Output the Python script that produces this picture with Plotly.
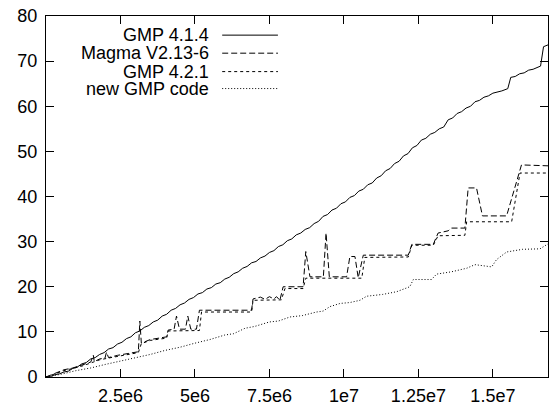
import plotly.graph_objects as go

# x values in millions
gmp414_x = [0, 0.15, 0.3, 0.45, 0.6, 0.75, 0.9, 1.05, 1.2, 1.35,
            1.5, 1.65, 1.8, 1.95, 2.1, 2.25, 2.4, 2.55, 2.7, 2.85,
            3.0, 3.15, 3.3, 3.45, 3.6, 3.75, 3.9, 4.05, 4.2, 4.35,
            4.5, 4.65, 4.8, 4.95, 5.1, 5.25, 5.4, 5.55, 5.7, 5.85,
            6.0, 6.15, 6.3, 6.45, 6.6, 6.75, 6.9, 7.05, 7.2, 7.35,
            7.5, 7.65, 7.8, 7.95, 8.1, 8.25, 8.4, 8.55, 8.7, 8.85,
            9.0, 9.15, 9.3, 9.45, 9.6, 9.75, 9.9, 10.05, 10.2, 10.35,
            10.5, 10.65, 10.8, 10.95, 11.1, 11.25, 11.4, 11.55, 11.7, 11.85,
            12.0, 12.15, 12.3, 12.45, 12.6, 12.75, 12.9, 13.05, 13.2, 13.35,
            13.5, 13.65, 13.8, 13.95, 14.1, 14.25, 14.4, 14.55, 14.7, 14.85,
            15.0, 15.15, 15.3, 15.5, 15.6, 15.75, 15.9, 16.05, 16.2, 16.35,
            16.5, 16.6, 16.7, 16.85]
gmp414_y = [0, 0.1, 0.5, 0.7, 1.1, 1.3, 1.9, 2.2, 2.9, 3.2,
            4.0, 4.3, 5.0, 5.4, 6.2, 6.5, 7.3, 7.7, 8.5, 8.9,
            9.8, 10.2, 11.0, 11.4, 12.2, 12.6, 13.5, 13.9, 14.8, 15.2,
            16.0, 16.4, 17.2, 17.6, 18.4, 18.7, 19.5, 19.8, 20.6, 20.9,
            21.7, 22.1, 22.9, 23.3, 24.1, 24.5, 25.3, 25.6, 26.4, 26.8,
            27.6, 28.0, 28.9, 29.3, 30.2, 30.6, 31.5, 31.9, 32.7, 33.1,
            34.0, 34.5, 35.6, 36.0, 37.0, 37.4, 38.4, 38.8, 39.8, 40.2,
            41.2, 41.6, 42.6, 43.0, 44.1, 44.6, 45.7, 46.2, 47.3, 47.8,
            49.0, 49.5, 50.8, 51.3, 52.5, 52.9, 53.8, 54.2, 55.0, 55.4,
            57.0, 57.4, 58.4, 58.8, 59.6, 60.0, 61.0, 61.3, 62.0, 62.3,
            62.9, 63.1, 63.4, 63.9, 66.4, 66.6, 67.2, 67.4, 68.0, 68.2,
            68.6, 68.9, 73.2, 73.6]

magma_x = [0, 0.3, 0.6, 0.9, 1.2, 1.5, 1.59, 1.62, 1.8, 1.98, 2.03, 2.1,
           2.4, 2.8, 3.1, 3.15, 3.2, 3.5, 3.8, 4.05, 4.1, 4.3, 4.38, 4.48,
           4.68, 4.76, 4.86, 5.05, 5.15, 6.9, 6.95, 7.2, 7.35, 7.5, 7.65, 7.74,
           7.85, 7.96, 8.63, 8.72, 8.86, 9.31, 9.40, 9.51, 10.09, 10.20, 10.37, 10.48,
           10.65, 12.16, 12.28, 13.0, 13.16, 13.5, 13.6, 14.06, 14.17, 14.45, 14.65, 15.46,
           15.96, 16.85]
magma_y = [0, 0.8, 1.6, 2.0, 2.6, 3.3, 4.8, 3.4, 4.0, 4.2, 5.5, 4.3,
           4.8, 5.2, 5.6, 12.4, 7.5, 8.3, 8.6, 8.9, 10.4, 10.6, 13.5, 10.6,
           10.6, 13.5, 10.6, 10.6, 14.8, 14.8, 17.3, 17.7, 17.2, 17.8, 17.3, 17.8,
           17.0, 20.0, 20.0, 27.8, 22.2, 22.2, 31.9, 22.2, 22.2, 26.7, 26.7, 22.0,
           27.0, 27.0, 29.4, 29.4, 31.9, 32.4, 33.0, 33.0, 41.9, 41.9, 35.7, 35.7,
           47.0, 46.8]

gmp421_x = [0, 0.3, 0.6, 0.9, 1.2, 1.5, 1.8, 2.1, 2.5, 2.8, 3.1, 3.2,
            3.5, 3.8, 4.05, 4.1, 5.15, 5.22, 6.9, 6.95, 7.9, 8.02, 8.63, 8.72,
            10.6, 10.7, 12.16, 12.28, 13.0, 13.16, 14.06, 14.12, 15.63, 15.91, 16.85]
gmp421_y = [0, 0.7, 1.4, 1.9, 2.4, 3.1, 3.8, 4.2, 4.7, 5.1, 5.4, 7.4,
            8.1, 8.4, 8.6, 10.2, 10.3, 14.4, 14.4, 17.0, 17.1, 19.6, 19.6, 21.9,
            21.9, 26.5, 26.6, 29.2, 29.2, 31.3, 31.4, 34.4, 34.4, 45.2, 45.2]

newgmp_x = [0, 0.5, 1.0, 1.5, 2.0, 2.5, 3.0, 3.5, 4.0, 4.5,
            5.0, 5.5, 6.0, 6.3, 6.68, 7.0, 7.5, 7.8, 8.19, 8.6,
            9.08, 9.3, 9.53, 9.87, 10.2, 10.54, 10.76, 11.3, 11.77, 12.21,
            12.33, 12.94, 13.11, 13.6, 14.12, 14.4, 14.96, 15.12, 15.46, 16.0,
            16.58, 16.8, 16.85]
newgmp_y = [0, 0.6, 1.4, 2.0, 2.8, 3.5, 4.3, 5.0, 5.9, 6.6,
            7.5, 8.3, 9.3, 9.6, 10.8, 11.2, 12.2, 12.4, 13.3, 13.6,
            14.4, 14.6, 15.6, 16.3, 16.5, 17.0, 17.9, 18.3, 18.9, 20.0,
            21.6, 21.6, 22.8, 23.3, 24.1, 24.9, 24.4, 26.0, 27.7, 28.3,
            28.4, 29.4, 29.5]

series_names = ["GMP 4.1.4", "Magma V2.13-6", "GMP 4.2.1", "new GMP code"]
x_tickvals = [2.5e6, 5e6, 7.5e6, 1e7, 1.25e7, 1.5e7]
x_ticktext = ["2.5e6", "5e6", "7.5e6", "1e7", "1.25e7", "1.5e7"]
y_tickvals = [0, 10, 20, 30, 40, 50, 60, 70, 80]

series = [
    (gmp414_x, gmp414_y, "solid"),
    (magma_x, magma_y, "6px,3px"),
    (gmp421_x, gmp421_y, "3px,3px"),
    (newgmp_x, newgmp_y, "1px,2px"),
]

FONT = "Liberation Sans, Arial, Helvetica, sans-serif"
fig = go.Figure()
for (xs, ys, dash), name in zip(series, series_names):
    fig.add_trace(go.Scatter(
        x=[v * 1e6 for v in xs], y=ys, mode="lines", name=name,
        line=dict(color="black", width=1, dash=dash), showlegend=False))

# gnuplot-style key: right-aligned text followed by a line sample
key_rows_y = [0.947, 0.897, 0.846, 0.799]
for (xs, ys, dash), name, ky in zip(series, series_names, key_rows_y):
    fig.add_annotation(xref="paper", yref="paper", x=0.327, y=ky, text=name,
                       showarrow=False, xanchor="right", yanchor="middle",
                       borderpad=0,
                       font=dict(family=FONT, size=18, color="black"))
    fig.add_shape(type="line", xref="paper", yref="paper",
                  x0=0.351, x1=0.462, y0=ky, y1=ky,
                  line=dict(color="black", width=1, dash=dash))

axis_common = dict(showline=True, linecolor="black", linewidth=1, mirror="ticks",
                   ticks="inside", ticklen=8, tickwidth=1, tickcolor="black",
                   showgrid=False, zeroline=False, automargin=False,
                   tickfont=dict(family=FONT, size=18, color="black"))
fig.update_xaxes(range=[0, 1.685e7], tickvals=x_tickvals, ticktext=x_ticktext,
                 ticklabelstandoff=2, **axis_common)
fig.update_yaxes(range=[0, 80], tickvals=y_tickvals, ticklabelstandoff=4, **axis_common)

fig.update_layout(width=551, height=409, margin=dict(l=46, r=3, t=16, b=32),
                  paper_bgcolor="white", plot_bgcolor="white",
                  font=dict(family=FONT, size=18, color="black"))

fig.write_html("out.html", config={"displayModeBar": False},
               post_script="document.body.style.margin='0';")
